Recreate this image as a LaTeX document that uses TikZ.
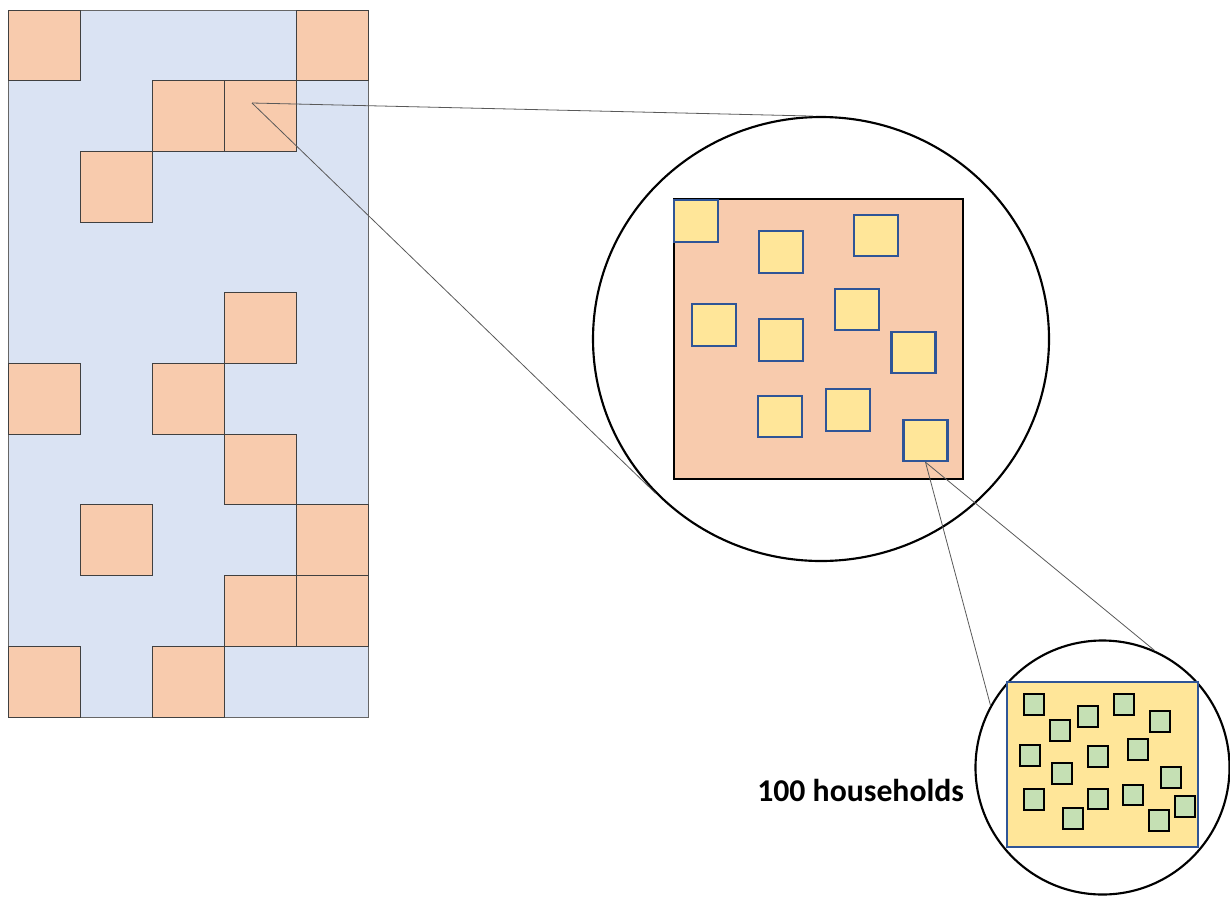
\documentclass[tikz,border=0pt]{standalone}
\usepackage{fontspec}
\setmainfont{Carlito}
\usetikzlibrary{shapes.geometric}
\definecolor{gridblue}{HTML}{DAE3F3}
\definecolor{plotorange}{HTML}{F8CBAD}
\definecolor{plotyellow}{HTML}{FFE699}
\definecolor{hhgreen}{HTML}{C5E0B4}
\definecolor{hhblue}{HTML}{2F5597}
\begin{document}
\begin{tikzpicture}
		[x=0.75pt,y=-0.75pt,
		cell/.style={draw=black!75,line width=0.7pt,fill=plotorange},
		lens/.style={draw=black,line width=1.6pt,inner sep=0pt},
		house/.style={draw=hhblue,line width=1.6pt,fill=plotyellow,inner sep=0pt,minimum width=33pt,minimum height=31pt},
		person/.style={draw=black,line width=1.7pt,fill=hhgreen,inner sep=0pt,minimum width=15pt,minimum height=15.5pt},
		zoomline/.style={draw=black!65,line width=0.6pt}]
		\useasboundingbox (0,0) rectangle (1230,896);
		\draw[fill=gridblue,draw=black!60,line width=0.7pt] (8,10) rectangle (368,717);
		\foreach \c/\r in {0/0,4/0,2/1,3/1,1/2,3/4,0/5,2/5,3/6,1/7,4/7,3/8,4/8,0/9,2/9}
		{
			\draw[cell] ({8+72*\c},{10+70.7*\r}) rectangle ++(72,70.7);
		}
		\coordinate (src) at (252,103);
		\node[lens,ellipse,minimum width=342pt,minimum height=333pt] (lensA) at (821,339) {};
		\draw[zoomline] (src) -- (lensA.92);
		\draw[zoomline] (src) -- (lensA.223);
		\node[draw=black,line width=1.6pt,fill=plotorange,minimum width=216.75pt,minimum height=210pt] (plot) at (818.5,339) {};
		\foreach \n/\x/\y in {1/696/221,2/781/252,3/876/235.5,4/714/325,5/781/340,
			6/857/309.5,7/913.5/352.5,8/780/416.5,9/848/410,10/925.5/440.5}
		{
			\node[house,name=h\n] at (\x,\y) {};
		}
		\node[lens,circle,minimum size=190.5pt] (lensB) at (1102.5,767.5) {};
		\draw[zoomline] (h10.south) -- (lensB.151);
		\draw[zoomline] (h10.south) -- (lensB.66);
		\node[draw=hhblue,line width=1.5pt,fill=plotyellow,minimum width=143.25pt,minimum height=123.75pt] (home) at (1102.5,764.5) {};
		\foreach \n/\x/\y in {1/1034/704.5,2/1060/730.5,3/1088/716.5,4/1124/704.5,5/1160/721.5,
			6/1030/755.5,7/1098/756.5,8/1138/749.5,9/1062/773.5,10/1171/777.5,
			11/1034/799.5,12/1098/799,13/1133/795,14/1185/806.5,15/1073/818.5,16/1159/820.5}
		{
			\node[person,name=p\n] at (\x,\y) {};
		}
		\node[anchor=base west,inner sep=0pt,font=\bfseries\fontsize{23.8}{28}\selectfont] (count) at (757,801) {100 households};
	\end{tikzpicture}
\end{document}
